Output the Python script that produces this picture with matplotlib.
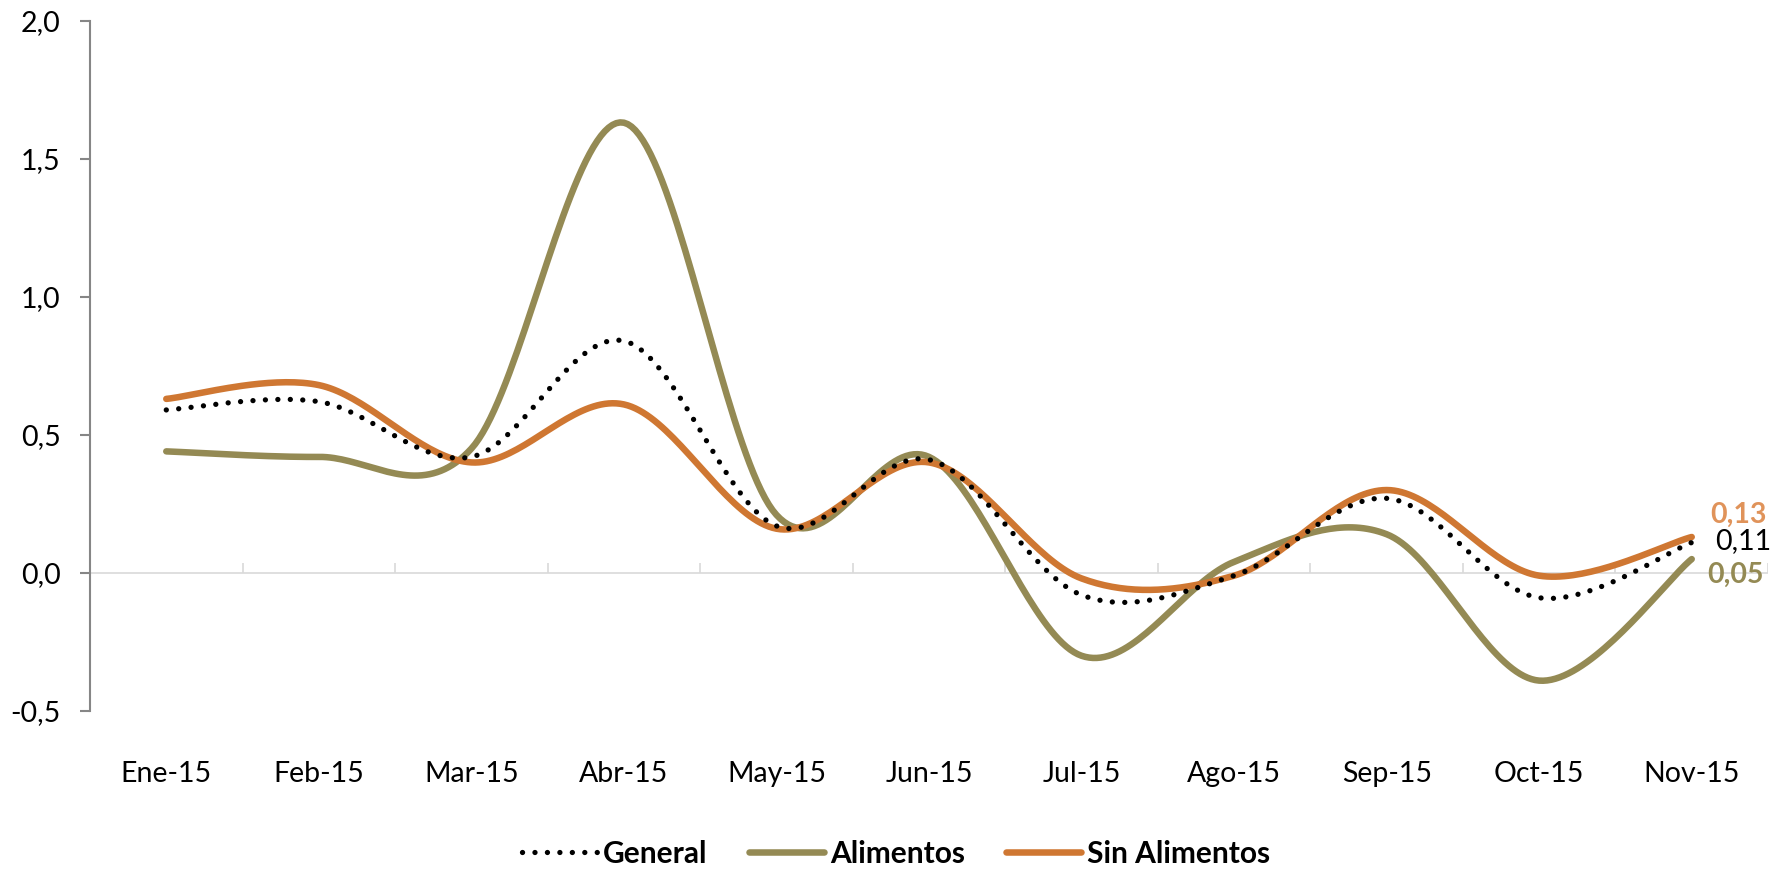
import numpy as np
import matplotlib
matplotlib.use("Agg")
import matplotlib.pyplot as plt
from matplotlib.lines import Line2D

months = ["Ene-15", "Feb-15", "Mar-15", "Abr-15", "May-15", "Jun-15",
          "Jul-15", "Ago-15", "Sep-15", "Oct-15", "Nov-15"]
general = [0.59, 0.62, 0.42, 0.84, 0.17, 0.41, -0.08, -0.01, 0.27, -0.09, 0.11]
alimentos = [0.44, 0.42, 0.45, 1.63, 0.21, 0.42, -0.30, 0.04, 0.14, -0.39, 0.05]
sin_alimentos = [0.63, 0.68, 0.40, 0.61, 0.16, 0.40, -0.02, -0.01, 0.30, -0.01, 0.13]
yticks = [-0.5, 0.0, 0.5, 1.0, 1.5, 2.0]

plt.rcParams['font.family'] = ['Lato', 'DejaVu Sans']

C_GEN = "#000000"
C_ALI = "#948A54"
C_SIN = "#CF7732"
C_SIN_LBL = "#E0935A"


def smooth(y, n=40):
    """Excel-like smoothed line (Catmull-Rom as cubic Bezier)."""
    y = np.asarray(y, float)
    x = np.arange(len(y), dtype=float)
    xs, ys = [], []
    N = len(y)
    for i in range(N - 1):
        i0 = max(i - 1, 0)
        i3 = min(i + 2, N - 1)
        p0 = np.array([x[i0], y[i0]])
        p1 = np.array([x[i], y[i]])
        p2 = np.array([x[i + 1], y[i + 1]])
        p3 = np.array([x[i3], y[i3]])
        c1 = p1 + (p2 - p0) / 6.0
        c2 = p2 - (p3 - p1) / 6.0
        t = np.linspace(0, 1, n, endpoint=(i == N - 2))[:, None]
        pts = ((1 - t) ** 3) * p1 + 3 * ((1 - t) ** 2) * t * c1 + 3 * (1 - t) * t ** 2 * c2 + t ** 3 * p2
        xs.append(pts[:, 0])
        ys.append(pts[:, 1])
    return np.concatenate(xs), np.concatenate(ys)


fig = plt.figure(figsize=(17.87, 8.72), dpi=100)
ax = fig.add_axes([90 / 1787, 161 / 872, (1768 - 90) / 1787, 690.5 / 872])

ax.set_xlim(-0.5, len(months) - 0.5)
ax.set_ylim(-0.5, 2.0)

# zero line with category tick marks
ax.axhline(0, color="#D9D9D9", lw=1.2, zorder=1)
bounds = np.arange(len(months) + 1) - 0.5
ax.vlines(bounds[1:], 0, 0.036, color="#D9D9D9", lw=1.2, zorder=1)

LW = 4.7
xa, ya = smooth(alimentos)
ax.plot(xa, ya, color=C_ALI, lw=LW, solid_capstyle="round", zorder=3)
xs_, ys_ = smooth(sin_alimentos)
ax.plot(xs_, ys_, color=C_SIN, lw=LW, solid_capstyle="round", zorder=4)
xg, yg = smooth(general)
ax.plot(xg, yg, color=C_GEN, lw=3.8, linestyle=(0, (0.01, 2.35)),
        dash_capstyle="round", zorder=5)

# end labels
last = len(months) - 1
ax.annotate("0,13", (last, sin_alimentos[-1]), xytext=(13, 16), textcoords="offset points",
            ha="left", va="center", fontsize=20.5, fontweight="bold", color=C_SIN_LBL)
ax.annotate("0,11", (last, general[-1]), xytext=(17, 1), textcoords="offset points",
            ha="left", va="center", fontsize=20.5, color="#000000")
ax.annotate("0,05", (last, alimentos[-1]), xytext=(11, -11), textcoords="offset points",
            ha="left", va="center", fontsize=20.5, fontweight="bold", color=C_ALI)

# axes styling
for s in ["top", "right", "bottom"]:
    ax.spines[s].set_visible(False)
ax.spines["left"].set_color("#868686")
ax.spines["left"].set_linewidth(1.5)

ax.set_yticks(yticks)
ax.set_yticklabels([f"{v:.1f}".replace(".", ",") for v in yticks])
ax.tick_params(axis="y", direction="out", length=7, width=1.5, color="#868686",
               labelsize=20.5, pad=14, labelcolor="#000000")
ax.set_xticks(np.arange(len(months)))
ax.set_xticklabels(months)
ax.tick_params(axis="x", length=0, labelsize=20.5, pad=36, labelcolor="#000000")

handles = [
    Line2D([], [], color=C_GEN, lw=3.8, linestyle=(0, (0.01, 2.35)), dash_capstyle="round"),
    Line2D([], [], color=C_ALI, lw=LW, solid_capstyle="round"),
    Line2D([], [], color=C_SIN, lw=LW, solid_capstyle="round"),
]
leg = fig.legend(handles, ["General", "Alimentos", "Sin Alimentos"],
                 loc="center", bbox_to_anchor=(0.5015, 0.021), ncol=3, frameon=False,
                 prop={"size": 21.5, "weight": "bold"}, handlelength=2.5,
                 handletextpad=0.2, columnspacing=1.4)

fig.savefig("out.png", dpi=100)
